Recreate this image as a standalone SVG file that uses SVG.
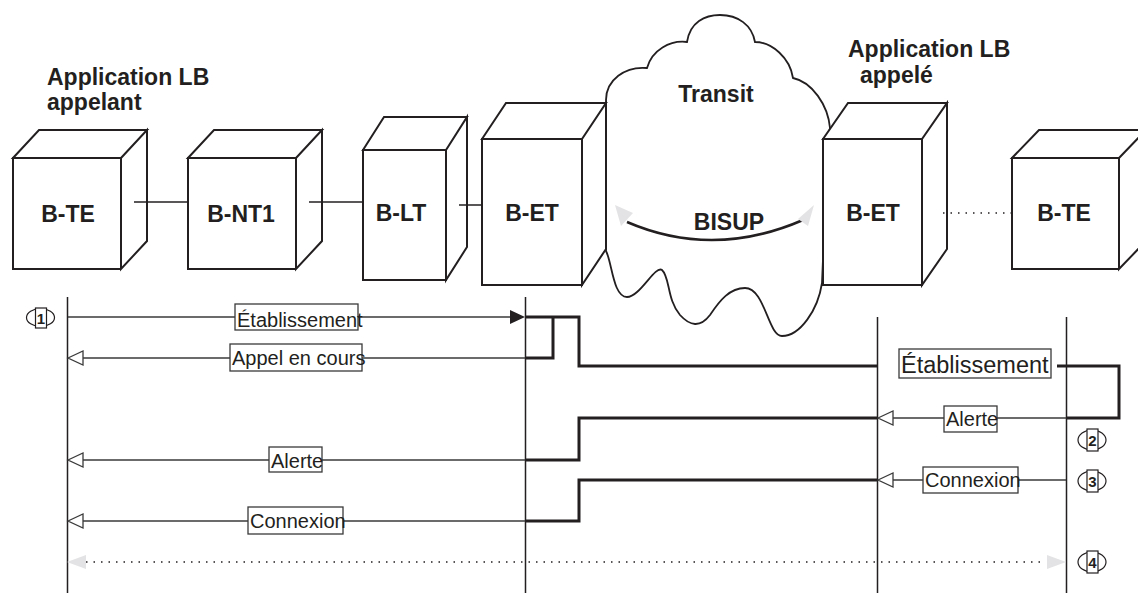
<svg xmlns="http://www.w3.org/2000/svg" width="1138" height="593" viewBox="0 0 1138 593">
<style>
text{font-family:"Liberation Sans",Arial,sans-serif;fill:#231f20}
.t{font-weight:bold;font-size:23px}
.lbl{font-size:20px}
.cube{fill:#fff;stroke:#231f20;stroke-width:2;stroke-linejoin:miter}
.thin{stroke:#3a3a3a;stroke-width:1.3;fill:none}
.thick{stroke:#231f20;stroke-width:3;fill:none}
.life{stroke:#231f20;stroke-width:1.5}
.box{fill:#fff;stroke:#3a3a3a;stroke-width:1.3}
.open{fill:#fff;stroke:#3a3a3a;stroke-width:1.3}
.ghost{fill:#e3e3e5;stroke:none}
.num{font-weight:bold;font-size:15px}
</style>
<rect width="1138" height="593" fill="#fff"/>

<g id="labels">
<text class="t" x="47" y="85">Application LB</text>
<text class="t" x="47" y="110">appelant</text>
<text class="t" x="848" y="57">Application LB</text>
<text class="t" x="860" y="83">appelé</text>
</g>

<g id="cloud-transit">
<path d="M606,100 C606,80 625,66 647,68 C652,50 670,40 687,42 C690,22 705,15 720,15 C738,15 752,25 755,42 C772,42 790,58 793,78 C812,82 828,105 830,128 L828,140 L822,283 C818,310 800,336 782,336 C768,336 765,288 745,288 C730,288 720,300 710,315 C700,328 690,326 680,315 C667,300 670,277 662,270 C655,265 640,297 627,297 C613,297 612,262 606,251 Z" fill="#fff" stroke="#231f20" stroke-width="1.8"/>
<text class="t" x="716" y="102" text-anchor="middle">Transit</text>
<path d="M627,222 Q713,259 803,220" fill="none" stroke="#231f20" stroke-width="2.5"/>
<polygon class="ghost" points="615,205 621,226 633,213"/>
<polygon class="ghost" points="814,205 798,219 808,226"/>
<text class="t" x="729" y="230" text-anchor="middle">BISUP</text>
</g>

<g id="node-bte1">
<path class="cube" d="M13,158 H121 V269 H13 Z M13,158 L39,130 H147 L121,158 Z M121,158 L147,130 V241 L121,269 Z"/>
<text class="t" x="68" y="222" text-anchor="middle">B-TE</text>
</g>
<g id="node-bnt1">
<path class="cube" d="M188,158 H296 V269 H188 Z M188,158 L214,130 H322 L296,158 Z M296,158 L322,130 V241 L296,269 Z"/>
<text class="t" x="241" y="222" text-anchor="middle">B-NT1</text>
</g>
<g id="node-blt">
<path class="cube" d="M363,150 H446 V280 H363 Z M363,150 L384,117 H467 L446,150 Z M446,150 L467,117 V247 L446,280 Z"/>
<text class="t" x="401" y="221" text-anchor="middle">B-LT</text>
</g>
<g id="node-bet1">
<path class="cube" d="M482,139 H582 V285 H482 Z M482,139 L506,103 H606 L582,139 Z M582,139 L606,103 V249 L582,285 Z"/>
<text class="t" x="532" y="221" text-anchor="middle">B-ET</text>
</g>
<g id="node-bet2">
<path class="cube" d="M823,139 H922 V285 H823 Z M823,139 L848,103 H947 L922,139 Z M922,139 L947,103 V249 L922,285 Z"/>
<text class="t" x="873" y="221" text-anchor="middle">B-ET</text>
</g>
<g id="node-bte2">
<path class="cube" d="M1012,158 H1119 V269 H1012 Z M1012,158 L1039,130 H1146 L1119,158 Z M1119,158 L1146,130 V241 L1119,269 Z"/>
<text class="t" x="1064" y="221" text-anchor="middle">B-TE</text>
</g>

<g id="connectors">
<line x1="134" y1="202" x2="188" y2="202" stroke="#231f20" stroke-width="1.5"/>
<line x1="309" y1="202" x2="363" y2="202" stroke="#231f20" stroke-width="1.5"/>
<line x1="459" y1="205" x2="482" y2="205" stroke="#231f20" stroke-width="1.5"/>
<line x1="943" y1="213" x2="1011" y2="213" stroke="#231f20" stroke-width="1.5" stroke-dasharray="1.5,6"/>

<!-- lifelines -->
<line class="life" x1="67.5" y1="297" x2="67.5" y2="593"/>
<line class="life" x1="525.5" y1="297" x2="525.5" y2="593"/>
<line class="life" x1="877.5" y1="317" x2="877.5" y2="593"/>
<line class="life" x1="1066.5" y1="317" x2="1066.5" y2="593"/>

<!-- thin messages -->
<line class="thin" x1="68" y1="317" x2="512" y2="317"/>
<polygon points="525,317 510,310 510,324" fill="#231f20"/>
<line class="thin" x1="83" y1="358" x2="525" y2="358"/>
<polygon class="open" points="68,358 83,351 83,365"/>
<line class="thin" x1="83" y1="460" x2="525" y2="460"/>
<polygon class="open" points="68,460 83,453 83,467"/>
<line class="thin" x1="83" y1="521" x2="525" y2="521"/>
<polygon class="open" points="68,521 83,514 83,528"/>
<line class="thin" x1="892" y1="418" x2="1066" y2="418"/>
<polygon class="open" points="878,418 893,411 893,425"/>
<line class="thin" x1="892" y1="480" x2="1066" y2="480"/>
<polygon class="open" points="878,480 893,473 893,487"/>

<!-- thick paths -->
<path class="thick" d="M525,317 H579 V366 H877"/>
<path class="thick" d="M525,358 H553 V317"/>
<path class="thick" d="M525,460 H579 V418 H877"/>
<path class="thick" d="M525,521 H579 V480 H877"/>
<path class="thick" d="M1057,366 H1119 V418 H1066"/>

<!-- dotted -->
<line x1="86" y1="562" x2="1045" y2="562" stroke="#231f20" stroke-width="1.5" stroke-dasharray="1.5,6"/>
<polygon class="ghost" points="67,562 86,555 86,569"/>
<polygon class="ghost" points="1066,562 1047,555 1047,569"/>
</g>

<g id="msg-labels">
<rect class="box" x="235" y="304" width="123" height="26"/>
<text class="lbl" x="237" y="327">Établissement</text>
<rect class="box" x="230" y="344" width="132" height="27"/>
<text class="lbl" x="232" y="365">Appel en cours</text>
<rect class="box" x="269" y="447" width="53" height="25"/>
<text class="lbl" x="271" y="468">Alerte</text>
<rect class="box" x="248" y="507" width="95" height="27"/>
<text class="lbl" x="250" y="528">Connexion</text>
<rect class="box" x="899" y="349" width="152" height="29"/>
<text x="901" y="373" font-size="23.5">Établissement</text>
<rect class="box" x="944" y="406" width="53" height="26"/>
<text class="lbl" x="946" y="426">Alerte</text>
<rect class="box" x="923" y="467" width="95" height="26"/>
<text class="lbl" x="925" y="487">Connexion</text>
</g>

<g id="step-1">
<ellipse cx="40.5" cy="317.5" rx="14" ry="9" fill="#fff" stroke="#231f20" stroke-width="1.2"/>
<rect x="35.5" y="308" width="11" height="20" fill="#fff" stroke="#231f20" stroke-width="1.2"/>
<text class="num" x="41" y="324" text-anchor="middle">1</text>
</g>
<g id="step-2">
<ellipse cx="1092" cy="440" rx="14" ry="10" fill="#fff" stroke="#231f20" stroke-width="1.2"/>
<rect x="1087" y="429" width="11" height="22" fill="#fff" stroke="#231f20" stroke-width="1.2"/>
<text class="num" x="1092.5" y="446" text-anchor="middle">2</text>
</g>
<g id="step-3">
<ellipse cx="1092" cy="481" rx="14" ry="10" fill="#fff" stroke="#231f20" stroke-width="1.2"/>
<rect x="1087" y="470" width="11" height="22" fill="#fff" stroke="#231f20" stroke-width="1.2"/>
<text class="num" x="1092.5" y="487" text-anchor="middle">3</text>
</g>
<g id="step-4">
<ellipse cx="1092" cy="562" rx="14" ry="10" fill="#fff" stroke="#231f20" stroke-width="1.2"/>
<rect x="1087" y="551" width="11" height="22" fill="#fff" stroke="#231f20" stroke-width="1.2"/>
<text class="num" x="1092.5" y="568" text-anchor="middle">4</text>
</g>
</svg>
